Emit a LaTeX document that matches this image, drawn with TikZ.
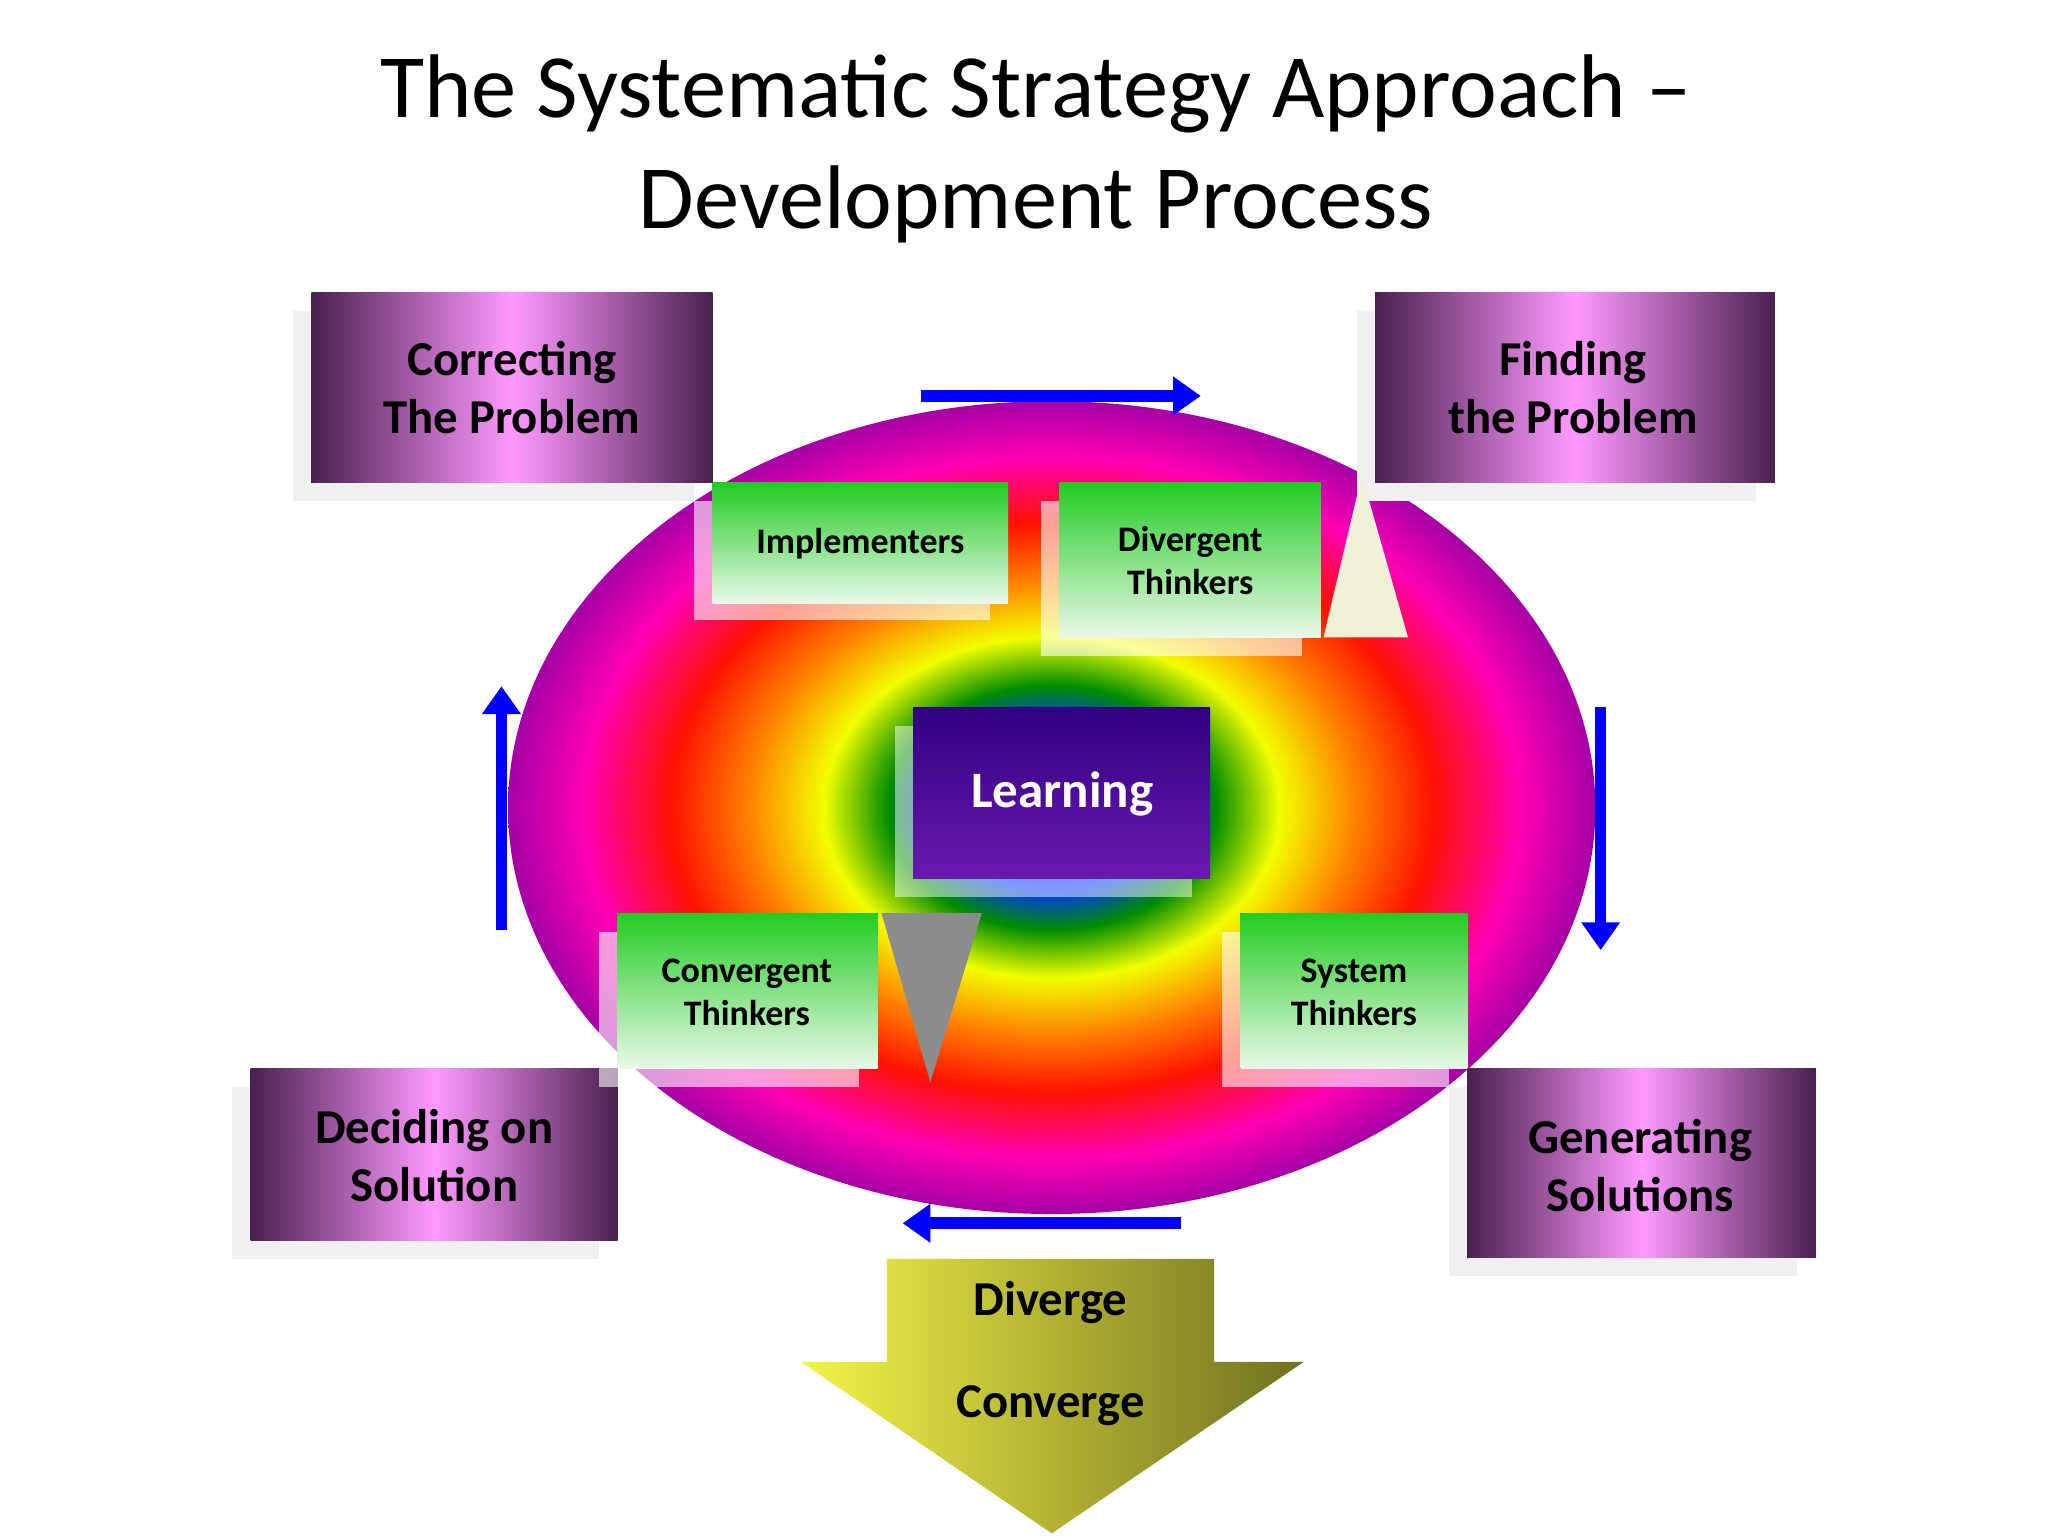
\documentclass[tikz,border=0pt]{standalone}
\usepackage{fontspec}
\setmainfont{Carlito}
\usetikzlibrary{arrows.meta}
\pgfdeclareradialshading{rainbow}{\pgfpoint{0bp}{0bp}}{color(0bp)=(blue!55!black); color(3bp)=(blue!80!black); color(5bp)=(blue!80!cyan); color(7.5bp)=(green!55!black); color(10.5bp)=(yellow!95!green); color(14bp)=(orange); color(17.5bp)=(red!85!orange); color(21.5bp)=(magenta!70!red); color(25bp)=(violet!70!magenta); color(50bp)=(violet)}
\definecolor{pdark}{HTML}{4A2050}
\definecolor{ppink}{HTML}{FF99FF}
\definecolor{gtop}{HTML}{22CC22}
\definecolor{gbot}{HTML}{EAF8EA}
\definecolor{yel}{HTML}{F4F448}
\definecolor{olive2}{HTML}{707020}
\definecolor{bluea}{HTML}{0000FF}
\tikzset{
  pbox/.style={shading=axis,left color=pdark,right color=pdark,middle color=ppink,shading angle=90},
  gbox/.style={top color=gtop,bottom color=gbot},
  shad/.style={fill=black!6},
  gshad/.style={fill=white,fill opacity=0.6},
  ptxt/.style={font=\bfseries\fontsize{21}{25}\selectfont,align=center,text=black},
  gtxt/.style={font=\bfseries\fontsize{15.5}{18.5}\selectfont,align=center,text=black},
  barr/.style={bluea,line width=5pt,-{Triangle[length=12pt,width=16pt]}}
}
\begin{document}
\begin{tikzpicture}[x=0.02cm,y=-0.02cm]
\useasboundingbox (0,0) rectangle (1552,1164);
\fill[white] (0,0) rectangle (1552,1164);
\node[font=\fontsize{39}{48}\selectfont,align=center] (title) at (785,113) {The Systematic Strategy Approach --\\Development Process};
% ellipse
\shade[shading=rainbow] (797,612) ellipse [x radius=412,y radius=308];
% purple boxes
\fill[shad] (222,236) rectangle (526,380);
\fill[pbox] (236,222) rectangle (540,366);
\node[ptxt] (corr) at (388,294) {Correcting\\The Problem};
\fill[shad] (1028,236) rectangle (1331,380);
\fill[pbox] (1042,222) rectangle (1345,366);
\node[ptxt] (find) at (1192,294) {Finding\\the Problem};
\fill[shad] (176,824) rectangle (454,954);
\fill[pbox] (190,810) rectangle (468,940);
\node[ptxt] (dec) at (329,876) {Deciding on\\Solution};
\fill[shad] (1098,824) rectangle (1362,967);
\fill[pbox] (1112,810) rectangle (1376,953);
\node[ptxt] (gen) at (1243,883) {Generating\\Solutions};
% triangles
\fill[black!7!white!90!yellow] (1032,360) -- (1067,483) -- (1003,483) -- cycle;
% green boxes
\fill[gshad] (526,380) rectangle (750,470);
\fill[gbox] (540,366) rectangle (764,457);
\node[gtxt] (impl) at (652,412) {Implementers};
\fill[gshad] (789,380) rectangle (987,497);
\fill[gbox] (803,366) rectangle (1001,483);
\node[gtxt] (div) at (902,425) {Divergent\\Thinkers};
\fill[gshad] (454,706) rectangle (651,824);
\fill[gbox] (468,692) rectangle (665,810);
\node[gtxt] (conv) at (566,752) {Convergent\\Thinkers};
\fill[gshad] (926,706) rectangle (1098,824);
\fill[gbox] (940,692) rectangle (1112,810);
\node[gtxt] (sys) at (1026,752) {System\\Thinkers};
\fill[black!45] (668,692) -- (744,692) -- (705,820) -- cycle;
% learning
\fill[white,fill opacity=0.5] (678,550) rectangle (903,680);
\shade[top color=violet!55!blue!70!black,bottom color=violet!70!blue!90!white] (692,536) rectangle (917,666);
\node[font=\bfseries\fontsize{22}{25}\selectfont,text=white] (learn) at (805,602) {Learning};
% blue arrows
\coordinate (t1) at (698,300); \coordinate (t2) at (910,300);
\coordinate (r1) at (1213,536); \coordinate (r2) at (1213,720);
\coordinate (b1) at (895,927); \coordinate (b2) at (684,927);
\coordinate (l1) at (380,705); \coordinate (l2) at (380,520);
\draw[barr] (t1) -- (t2);
\draw[barr] (r1) -- (r2);
\draw[barr] (b1) -- (b2);
\draw[barr] (l1) -- (l2);
% bottom arrow
\shade[left color=yel,right color=olive2] (672,954) -- (920,954) -- (920,1032) -- (988,1032) -- (797,1162) -- (607,1032) -- (672,1032) -- cycle;
\node[ptxt] (dv) at (796,987) {Diverge};
\node[ptxt] (cv) at (796,1065) {Converge};
\end{tikzpicture}
\end{document}
